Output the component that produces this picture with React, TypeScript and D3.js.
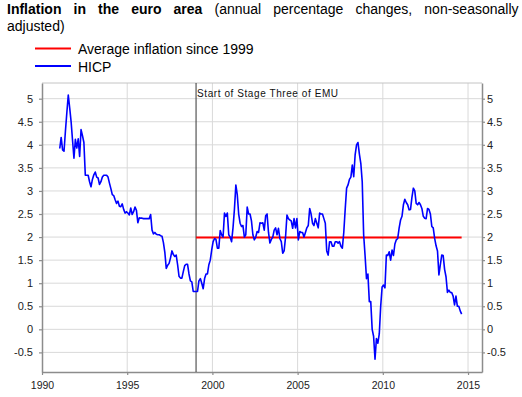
import { useEffect, useRef } from "react";
import * as d3 from "d3";

// monthly HICP annual rates, one row per year, starting January 1991
const hicpStartYear = 1991;
const hicpByYear: number[][] = [
  [3.92, 4.16, 3.89, 3.86, 4.3, 4.7, 5.08, 4.8, 4.5, 4.1, 3.71, 4.12],
  [3.93, 4.13, 3.75, 4.33, 4.2, 4.05, 3.34, 3.34, 3.34, 3.2, 3.09, 3.25],
  [3.35, 3.41, 3.3, 3.28, 3.14, 3.2, 3.3, 3.34, 3.34, 3.34, 3.3, 3.17],
  [3.05, 2.92, 2.9, 2.81, 2.73, 2.78, 2.67, 2.66, 2.72, 2.6, 2.52, 2.55],
  [2.52, 2.48, 2.63, 2.49, 2.55, 2.65, 2.58, 2.31, 2.42, 2.41, 2.41, 2.4],
  [2.4, 2.4, 2.4, 2.4, 2.49, 2.15, 2.07, 2.1, 2.06, 2.05, 2.05, 2.03],
  [2.02, 1.88, 1.67, 1.32, 1.39, 1.43, 1.55, 1.7, 1.62, 1.58, 1.61, 1.4],
  [1.15, 1.11, 1.11, 1.25, 1.38, 1.41, 1.41, 1.2, 1.05, 1.03, 0.82, 0.82],
  [0.82, 0.82, 1.05, 1.1, 1.0, 0.88, 1.1, 1.2, 1.2, 1.4, 1.5, 1.72],
  [1.9, 1.97, 1.95, 1.76, 1.76, 2.14, 2.05, 2.0, 2.52, 2.45, 2.52, 2.05],
  [2.0, 1.9, 2.2, 2.6, 3.13, 2.92, 2.5, 2.3, 2.23, 2.25, 2.0, 2.05],
  [2.65, 2.5, 2.5, 2.35, 2.05, 1.94, 2.0, 2.12, 2.1, 2.31, 2.3, 2.31],
  [2.15, 2.46, 2.5, 2.1, 1.87, 1.95, 2.0, 2.15, 2.2, 2.05, 2.19, 1.97],
  [1.9, 1.65, 1.7, 2.0, 2.48, 2.4, 2.37, 2.35, 2.19, 2.4, 2.2, 2.4],
  [1.94, 2.12, 2.1, 2.1, 2.0, 2.1, 2.2, 2.25, 2.62, 2.5, 2.3, 2.25],
  [2.4, 2.3, 2.2, 2.52, 2.5, 2.5, 2.4, 2.3, 1.7, 1.61, 1.9, 1.9],
  [1.8, 1.8, 1.9, 1.9, 1.87, 1.9, 1.8, 1.76, 2.1, 2.6, 3.06, 3.13],
  [3.25, 3.3, 3.56, 3.31, 3.78, 4.0, 4.05, 3.8, 3.6, 3.2, 2.05, 1.6],
  [1.1, 1.2, 0.6, 0.6, 0.0, -0.15, -0.65, -0.2, -0.3, -0.1, 0.5, 0.92],
  [0.96, 0.9, 1.61, 1.6, 1.68, 1.5, 1.72, 1.6, 1.85, 1.94, 1.97, 2.2],
  [2.37, 2.45, 2.7, 2.82, 2.75, 2.7, 2.59, 2.6, 2.86, 3.06, 3.0, 2.73],
  [2.7, 2.75, 2.7, 2.62, 2.45, 2.41, 2.4, 2.62, 2.6, 2.5, 2.23, 2.2],
  [1.97, 1.81, 1.7, 1.18, 1.4, 1.61, 1.6, 1.3, 1.14, 0.8, 0.85, 0.8],
  [0.8, 0.72, 0.53, 0.72, 0.5, 0.5, 0.4, 0.33],
];

const averageSince1999 = 1.99;
const averageStartYear = 1999;
const emuDate = 1999.04;

const xTicks = [1990, 1995, 2000, 2005, 2010, 2015];
const yTicks = [-0.5, 0, 0.5, 1, 1.5, 2, 2.5, 3, 3.5, 4, 4.5, 5];

const titleBold = "Inflation in the euro area";
const titleRest = "(annual percentage changes, non-seasonally";
const titleLine2 = "adjusted)";
const legendLabels = ["Average inflation since 1999", "HICP"];
const emuLabel = "Start of Stage Three of EMU";

interface IPoint {
  date: number;
  value: number;
}

function App() {
  const ref = useRef<SVGSVGElement>(null);

  useEffect(() => {
    const width = 522;
    const height = 397;
    const margin = { top: 83, right: 40, bottom: 25, left: 42 };
    const font = "'Liberation Sans', Arial, sans-serif";
    const frameColor = "#8c8c8c";
    const gridColor = "#d9d9d9";

    const svg = d3.select(ref.current);
    svg.selectAll("*").remove();

    const points: IPoint[] = hicpByYear.flatMap((row, i) =>
      row.map((v, m) => ({ date: hicpStartYear + i + (m + 0.5) / 12, value: v }))
    );
    const lastDate = points[points.length - 1].date;

    const x = d3
      .scaleLinear()
      .domain([1990, 2015.82])
      .range([margin.left, width - margin.right]);
    const y = d3
      .scaleLinear()
      .domain([-0.925, 5.34])
      .range([height - margin.bottom, margin.top]);

    // title
    const title = svg
      .append("text")
      .attr("x", 7)
      .attr("y", 14)
      .attr("font-family", font)
      .attr("font-size", 14)
      .attr("word-spacing", 8.2)
      .attr("fill", "#000");
    title.append("tspan").attr("font-weight", "bold").text(titleBold);
    title.append("tspan").text(" " + titleRest);
    svg
      .append("text")
      .attr("x", 7)
      .attr("y", 31)
      .attr("font-family", font)
      .attr("font-size", 14)
      .text(titleLine2);

    // legend
    const legendColors = ["#ff0000", "#0000ff"];
    legendLabels.forEach((label, i) => {
      const ly = 48.5 + i * 17.5;
      svg
        .append("line")
        .attr("x1", 35)
        .attr("x2", 71)
        .attr("y1", ly)
        .attr("y2", ly)
        .attr("stroke", legendColors[i])
        .attr("stroke-width", 2);
      svg
        .append("text")
        .attr("x", 78)
        .attr("y", ly + 5.5)
        .attr("font-family", font)
        .attr("font-size", 14)
        .text(label);
    });

    // grid
    const grid = svg.append("g");
    grid
      .selectAll("line.h")
      .data(yTicks)
      .enter()
      .append("line")
      .attr("x1", x.range()[0])
      .attr("x2", x.range()[1])
      .attr("y1", (d) => y(d))
      .attr("y2", (d) => y(d))
      .attr("stroke", gridColor)
      .attr("stroke-width", 1);
    grid
      .selectAll("line.v")
      .data(xTicks.slice(1))
      .enter()
      .append("line")
      .attr("x1", (d) => x(d))
      .attr("x2", (d) => x(d))
      .attr("y1", y.range()[0])
      .attr("y2", y.range()[1])
      .attr("stroke", gridColor)
      .attr("stroke-width", 1);
    // top border
    svg
      .append("line")
      .attr("x1", x.range()[0])
      .attr("x2", x.range()[1])
      .attr("y1", y.range()[1])
      .attr("y2", y.range()[1])
      .attr("stroke", "#c4c4c4")
      .attr("stroke-width", 1);

    // axes
    const styleAxis = (g: d3.Selection<SVGGElement, unknown, null, undefined>) => {
      g.select(".domain").attr("stroke", frameColor).attr("stroke-width", 1.5);
      g.selectAll(".tick line").attr("stroke", frameColor).attr("stroke-width", 1.2);
      g.selectAll(".tick text")
        .attr("fill", "#222")
        .attr("font-family", font)
        .attr("font-size", 11);
    };
    const fmt = (d: d3.NumberValue) => String(d);

    svg
      .append("g")
      .attr("transform", `translate(0, ${y.range()[0]})`)
      .call(d3.axisBottom(x).tickValues(xTicks).tickFormat(fmt).tickSize(3).tickSizeOuter(0).tickPadding(7))
      .call(styleAxis)
      .selectAll(".tick text")
      .attr("font-size", 10.5);
    svg
      .append("g")
      .attr("transform", `translate(${x.range()[0]}, 0)`)
      .call(d3.axisLeft(y).tickValues(yTicks).tickFormat(fmt).tickSize(3).tickSizeOuter(0).tickPadding(6))
      .call(styleAxis);
    svg
      .append("g")
      .attr("transform", `translate(${x.range()[1]}, 0)`)
      .call(d3.axisRight(y).tickValues(yTicks).tickFormat(fmt).tickSize(3).tickSizeOuter(0).tickPadding(2))
      .call(styleAxis);

    // EMU marker
    svg
      .append("line")
      .attr("x1", x(emuDate))
      .attr("x2", x(emuDate))
      .attr("y1", y.range()[0])
      .attr("y2", y.range()[1])
      .attr("stroke", "#333")
      .attr("stroke-width", 1);
    svg
      .append("text")
      .attr("x", x(emuDate) + 1)
      .attr("y", 96.5)
      .attr("font-family", font)
      .attr("font-size", 10)
      .attr("textLength", 141)
      .attr("lengthAdjust", "spacing")
      .attr("fill", "#111")
      .text(emuLabel);

    // average line
    svg
      .append("line")
      .attr("x1", x(averageStartYear + 0.5 / 12))
      .attr("x2", x(lastDate))
      .attr("y1", y(averageSince1999))
      .attr("y2", y(averageSince1999))
      .attr("stroke", "#ff0000")
      .attr("stroke-width", 2);

    // HICP
    const line = d3
      .line<IPoint>()
      .x((d) => x(d.date))
      .y((d) => y(d.value));
    svg
      .append("path")
      .datum(points)
      .attr("fill", "none")
      .attr("stroke", "#0000ff")
      .attr("stroke-width", 1.6)
      .attr("stroke-linejoin", "round")
      .attr("d", line);
  }, []);

  return (
    <svg
      ref={ref}
      width={522}
      height={397}
      style={{ position: "absolute", left: 0, top: 0, background: "#fff" }}
    />
  );
}

export default App;
